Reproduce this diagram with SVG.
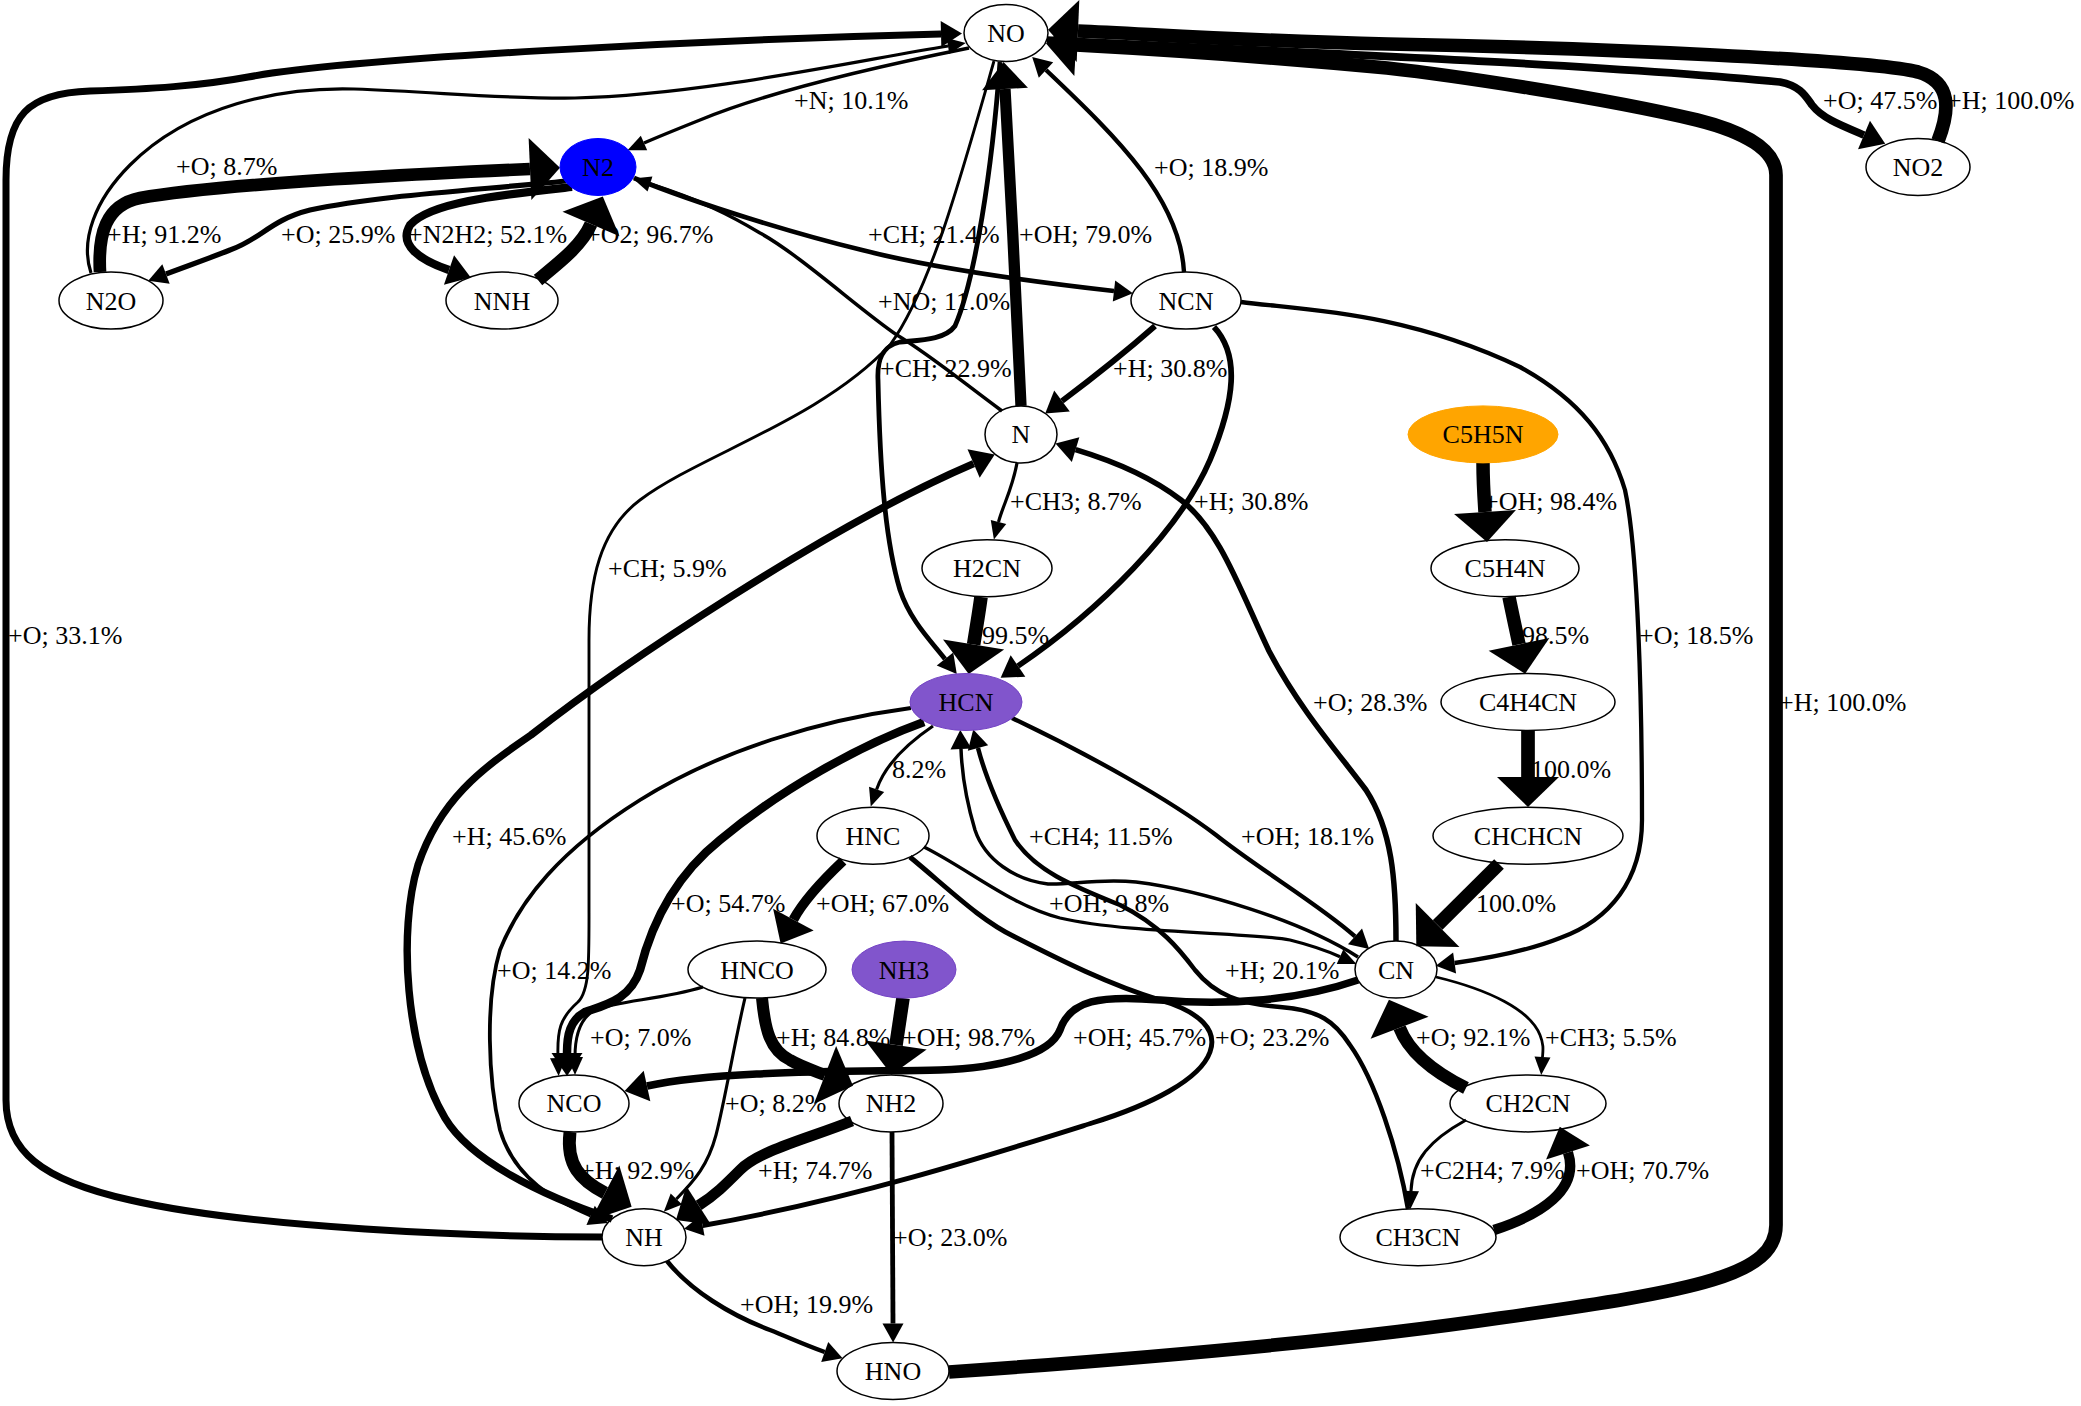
<svg xmlns="http://www.w3.org/2000/svg" width="2081" height="1406" viewBox="0 0 2081 1406">
<style>
.e{fill:none;stroke:#000;stroke-linecap:butt}
.n{fill:none;stroke:#000;stroke-width:1.5}
text{font-family:"Liberation Serif","Times New Roman",serif;font-size:26px;fill:#000}
.nt{text-anchor:middle}
</style>
<defs>
<marker id="m3" markerUnits="userSpaceOnUse" markerWidth="18" markerHeight="16" refX="0" refY="8" orient="auto" overflow="visible"><path d="M0,0L18,8L0,16z"/></marker>
<marker id="m4" markerUnits="userSpaceOnUse" markerWidth="19" markerHeight="21" refX="0" refY="10.5" orient="auto" overflow="visible"><path d="M0,0L19,10.5L0,21z"/></marker>
<marker id="m6" markerUnits="userSpaceOnUse" markerWidth="21" markerHeight="26" refX="0" refY="13" orient="auto" overflow="visible"><path d="M0,0L21,13L0,26z"/></marker>
<marker id="m8" markerUnits="userSpaceOnUse" markerWidth="23" markerHeight="31" refX="0" refY="15.5" orient="auto" overflow="visible"><path d="M0,0L23,15.5L0,31z"/></marker>
<marker id="m10" markerUnits="userSpaceOnUse" markerWidth="27" markerHeight="46" refX="0" refY="23" orient="auto" overflow="visible"><path d="M0,0L27,23L0,46z"/></marker>
<marker id="m13" markerUnits="userSpaceOnUse" markerWidth="30" markerHeight="62" refX="0" refY="31" orient="auto" overflow="visible"><path d="M0,0L30,31L0,62z"/></marker>
</defs>
<rect width="2081" height="1406" fill="#fff"/>
<g id="connectors">
<g id="e-NH-NO"><path class="e" stroke-width="7" marker-end="url(#m6)" d="M602,1237 C480,1237 250,1228 130,1200 C40,1180 6,1150 6,1100 L6,180 C6,115 28,93 90,91 C150,89 200,86 248,77 C350,58 700,40 941,34"/><text x="8" y="644.1">+O; 33.1%</text></g>
<g id="e-N2O-NO"><path class="e" stroke-width="3.2" marker-end="url(#m3)" d="M91,273 C80,240 95,200 130,165 C190,105 280,87 354,89 C440,92 500,99 575,98 C700,95 850,62 948,46"/><text x="176" y="174.8">+O; 8.7%</text></g>
<g id="e-N-NO"><path class="e" stroke-width="11.3" marker-end="url(#m10)" d="M1021,406 C1018,330 1010,180 1005,89"/><text x="1019" y="242.7">+OH; 79.0%</text></g>
<g id="e-NCN-NO"><path class="e" stroke-width="4.4" marker-end="url(#m4)" d="M1184,272 C1180,200 1120,140 1046,70"/><text x="1154" y="175.8">+O; 18.9%</text></g>
<g id="e-NO2-NO"><path class="e" stroke-width="13.7" marker-end="url(#m13)" d="M1938,141 C1950,110 1952,82 1918,72 C1870,60 1600,48 1388,44 C1250,41 1150,34 1078,31"/><text x="1947" y="108.9">+H; 100.0%</text></g>
<g id="e-HNO-NO"><path class="e" stroke-width="13.7" marker-end="url(#m13)" d="M949,1372 C1150,1358 1350,1340 1500,1318 C1700,1290 1776,1275 1776,1225 L1776,175 C1776,150 1745,132 1697,120 C1600,97 1450,75 1387,68 C1250,55 1150,49 1076,45"/><text x="1779" y="711">+H; 100.0%</text></g>
<g id="e-NO-NCO"><path class="e" stroke-width="2.9" marker-end="url(#m3)" d="M994,61 C960,180 930,290 890,345 C820,420 700,455 640,500 C600,530 589,580 589,640 L589,900 C589,960 590,990 578,1002 C560,1018 557,1030 558,1058"/><text x="608" y="577.2">+CH; 5.9%</text></g>
<g id="e-NO-HCN"><path class="e" stroke-width="4.8" marker-end="url(#m4)" d="M1000,62 C992,170 975,280 955,326 C945,340 920,340 900,342 C882,346 877,360 878,380 C880,470 885,540 900,590 C910,620 930,640 945,659"/><text x="880" y="376.5">+CH; 22.9%</text></g>
<g id="e-N2-NCN"><path class="e" stroke-width="4.7" marker-end="url(#m4)" d="M634,178 C700,205 800,235 862,250 C920,265 1000,278 1114,291"/><text x="868" y="242.7">+CH; 21.4%</text></g>
<g id="e-N-N2"><path class="e" stroke-width="3.5" marker-end="url(#m3)" d="M1002,411 C960,380 930,355 897,335 C860,310 800,255 760,233 C730,215 700,200 650,184"/><text x="878" y="309.6">+NO; 11.0%</text></g>
<g id="e-NO-N2"><path class="e" stroke-width="3.4" marker-end="url(#m3)" d="M969,48 C860,70 760,95 700,120 C675,130 660,136 644,143"/><text x="794" y="108.9">+N; 10.1%</text></g>
<g id="e-N2O-N2"><path class="e" stroke-width="12.7" marker-end="url(#m13)" d="M100,272 C98,235 105,205 140,198 C200,187 350,177 530,169"/><text x="107" y="242.7">+H; 91.2%</text></g>
<g id="e-N2-N2O"><path class="e" stroke-width="5.2" marker-end="url(#m4)" d="M566,181 C480,190 380,195 310,210 C270,220 260,240 230,250 C210,258 190,265 166,274"/><text x="281" y="242.7">+O; 25.9%</text></g>
<g id="e-N2-NNH"><path class="e" stroke-width="8.2" marker-end="url(#m8)" d="M572,187 C500,195 430,202 410,225 C398,245 420,260 449,270"/><text x="408" y="242.7">+N2H2; 52.1%</text></g>
<g id="e-NNH-N2"><path class="e" stroke-width="13.3" marker-end="url(#m13)" d="M538,280 C560,262 582,245 591,224"/><text x="586" y="242.7">+O2; 96.7%</text></g>
<g id="e-NO-NO2"><path class="e" stroke-width="7.7" marker-end="url(#m8)" d="M1047,40 C1250,50 1600,64 1780,82 C1800,86 1805,95 1812,105 C1822,118 1840,125 1864,135"/><text x="1823" y="108.9">+O; 47.5%</text></g>
<g id="e-NCN-N"><path class="e" stroke-width="5.7" marker-end="url(#m6)" d="M1155,326 C1130,348 1090,380 1062,401"/><text x="1113" y="376.5">+H; 30.8%</text></g>
<g id="e-NCN-HCN"><path class="e" stroke-width="5.7" marker-end="url(#m6)" d="M1214,327 C1240,355 1235,400 1210,460 C1180,530 1100,610 1018,666"/><text x="1194" y="510.3">+H; 30.8%</text></g>
<g id="e-N-H2CN"><path class="e" stroke-width="3.2" marker-end="url(#m3)" d="M1017,463 C1012,490 1003,505 998.5,522"/><text x="1010" y="510.3">+CH3; 8.7%</text></g>
<g id="e-H2CN-HCN"><path class="e" stroke-width="13.6" marker-end="url(#m13)" d="M981,597 C979,612 976,630 973.6,644.5"/><text x="982" y="644.1">99.5%</text></g>
<g id="e-NH-N"><path class="e" stroke-width="7.4" marker-end="url(#m8)" d="M612,1219 C540,1195 470,1160 445,1118 C405,1050 398,930 418,865 C440,800 480,770 531,735 C620,665 830,525 973.6,463.6"/><text x="452" y="844.8">+H; 45.6%</text></g>
<g id="e-CN-N"><path class="e" stroke-width="5.5" marker-end="url(#m6)" d="M1396,941 C1396,880 1392,830 1366,790 C1340,755 1300,710 1269,651 C1240,590 1220,530 1181,500 C1150,476 1110,460 1075.6,449.6"/><text x="1313" y="711">+O; 28.3%</text></g>
<g id="e-NCN-CN"><path class="e" stroke-width="4.3" marker-end="url(#m4)" d="M1241,302 C1300,310 1400,310 1520,367 C1580,400 1610,440 1625,490 C1638,550 1642,700 1642,820 C1642,880 1610,920 1560,938 C1530,950 1490,958 1454.6,963"/><text x="1639" y="644.1">+O; 18.5%</text></g>
<g id="e-C5H5N-C5H4N"><path class="e" stroke-width="13.5" marker-end="url(#m13)" d="M1483,463 C1483,480 1484,497 1485,512"/><text x="1484" y="510.3">+OH; 98.4%</text></g>
<g id="e-C5H4N-C4H4CN"><path class="e" stroke-width="13.5" marker-end="url(#m13)" d="M1509,597 C1512,612 1516,630 1519,644.4"/><text x="1522" y="644.1">98.5%</text></g>
<g id="e-C4H4CN-CHCHCN"><path class="e" stroke-width="13.7" marker-end="url(#m13)" d="M1528,730.5 L1528,777"/><text x="1531" y="777.9">100.0%</text></g>
<g id="e-CHCHCN-CN"><path class="e" stroke-width="13.7" marker-end="url(#m13)" d="M1499,864 L1437.6,925"/><text x="1476" y="911.7">100.0%</text></g>
<g id="e-HCN-HNC"><path class="e" stroke-width="3.1" marker-end="url(#m3)" d="M933,726 C905,745 885,765 876.6,789.4"/><text x="892" y="777.9">8.2%</text></g>
<g id="e-HCN-NCO"><path class="e" stroke-width="8.5" marker-end="url(#m8)" d="M924,722 C860,745 780,790 720,840 C670,880 650,930 640,970 C630,1000 605,1005 585,1012 C570,1020 567,1035 567,1053"/><text x="671" y="911.7">+O; 54.7%</text></g>
<g id="e-HCN-NH"><path class="e" stroke-width="3.8" marker-end="url(#m4)" d="M911,708 C820,720 720,750 640,800 C560,850 520,900 500,950 C485,1000 488,1080 500,1130 C515,1180 555,1200 590.6,1215.4"/><text x="497" y="978.6">+O; 14.2%</text></g>
<g id="e-HCN-CN"><path class="e" stroke-width="4.3" marker-end="url(#m4)" d="M1012,718 C1090,755 1170,800 1216,835 C1260,870 1320,905 1355,936.4"/><text x="1241" y="844.8">+OH; 18.1%</text></g>
<g id="e-CN-HCN"><path class="e" stroke-width="3.5" marker-end="url(#m4)" d="M1358,957 C1300,920 1200,890 1136,882 C1100,878 1070,885 1048,884 C1015,880 985,860 975,830 C966,800 962,775 961,749"/><text x="1029" y="844.8">+CH4; 11.5%</text></g>
<g id="e-CH3CN-HCN"><path class="e" stroke-width="4.5" marker-end="url(#m4)" d="M1408,1209 C1398,1150 1375,1080 1350,1045 C1335,1022 1320,1010 1280,1007 C1240,1004 1215,995 1195,970 C1180,950 1160,925 1120,905 C1070,885 1035,870 1015,840 C1000,810 985,775 978,748"/><text x="1225" y="978.6">+H; 20.1%</text></g>
<g id="e-HNC-CN"><path class="e" stroke-width="3.3" marker-end="url(#m3)" d="M924,847 C970,870 1010,905 1060,918 C1130,934 1250,932 1290,940 C1310,945 1325,950 1340,956.7"/><text x="1049" y="911.7">+OH; 9.8%</text></g>
<g id="e-HNC-HNCO"><path class="e" stroke-width="9.9" marker-end="url(#m10)" d="M843,861 C825,878 805,898 793.4,919.6"/><text x="816" y="911.7">+OH; 67.0%</text></g>
<g id="e-HNC-NH"><path class="e" stroke-width="4.9" marker-end="url(#m4)" d="M910,857 C950,890 980,920 1015,937 C1060,960 1110,985 1160,1000 C1200,1012 1218,1030 1210,1052 C1200,1080 1150,1105 1092,1123 C1000,1152 850,1200 702.7,1225.5"/><text x="1215" y="1045.5">+O; 23.2%</text></g>
<g id="e-CN-NCO"><path class="e" stroke-width="7.5" marker-end="url(#m8)" d="M1358,980 C1300,1000 1230,1006 1160,1000 C1100,995 1070,1000 1060,1030 C1050,1055 1000,1068 940,1070 C850,1072 720,1070 647,1086"/><text x="1073" y="1045.5">+OH; 45.7%</text></g>
<g id="e-CH2CN-CN"><path class="e" stroke-width="12.8" marker-end="url(#m13)" d="M1466,1088 C1440,1075 1410,1055 1399.6,1027.7"/><text x="1416" y="1045.5">+O; 92.1%</text></g>
<g id="e-CN-CH2CN"><path class="e" stroke-width="2.8" marker-end="url(#m3)" d="M1436,977 C1490,990 1530,1010 1540,1035 C1544,1045 1543,1050 1542.5,1057"/><text x="1545" y="1045.5">+CH3; 5.5%</text></g>
<g id="e-CH2CN-CH3CN"><path class="e" stroke-width="3.1" marker-end="url(#m3)" d="M1466,1120 C1430,1140 1412,1160 1411,1191"/><text x="1420" y="1179.3">+C2H4; 7.9%</text></g>
<g id="e-CH3CN-CH2CN"><path class="e" stroke-width="10.3" marker-end="url(#m10)" d="M1494,1230 C1540,1215 1580,1190 1568,1152.5"/><text x="1576" y="1179.3">+OH; 70.7%</text></g>
<g id="e-NCO-NH"><path class="e" stroke-width="12.9" marker-end="url(#m13)" d="M570,1132 C566,1165 580,1180 605,1193"/><text x="580" y="1179.3">+H; 92.9%</text></g>
<g id="e-HNCO-NCO"><path class="e" stroke-width="3" marker-end="url(#m3)" d="M703,987 C660,1000 620,1000 595,1010 C580,1018 575,1035 575,1057"/><text x="590" y="1045.5">+O; 7.0%</text></g>
<g id="e-HNCO-NH"><path class="e" stroke-width="3.1" marker-end="url(#m3)" d="M745,998 C735,1040 725,1100 716,1135 C708,1165 695,1180 676.4,1199"/><text x="725" y="1112.4">+O; 8.2%</text></g>
<g id="e-NH2-NH"><path class="e" stroke-width="10.8" marker-end="url(#m10)" d="M852,1121 C810,1138 760,1150 740,1170 C725,1185 715,1195 698.7,1205.4"/><text x="758" y="1179.3">+H; 74.7%</text></g>
<g id="e-NH3-NH2"><path class="e" stroke-width="13.6" marker-end="url(#m13)" d="M903,998 L896,1045"/><text x="902" y="1045.5">+OH; 98.7%</text></g>
<g id="e-HNCO-NH2"><path class="e" stroke-width="12" marker-end="url(#m13)" d="M762,998 C765,1030 770,1050 790,1060 C800,1066 812,1070 825,1075"/><text x="776" y="1045.5">+H; 84.8%</text></g>
<g id="e-NH2-HNO"><path class="e" stroke-width="4.8" marker-end="url(#m4)" d="M892,1132 L893,1323.5"/><text x="893" y="1246.2">+O; 23.0%</text></g>
<g id="e-NH-HNO"><path class="e" stroke-width="4.5" marker-end="url(#m4)" d="M667,1261 C690,1290 730,1315 770,1330 C790,1338 805,1345 824.7,1352"/><text x="740" y="1313.1">+OH; 19.9%</text></g>
</g>
<g id="nodes">
<g id="node-NO"><ellipse class="n" cx="1006" cy="33" rx="42" ry="28.5"/><text class="nt" x="1006" y="42">NO</text></g>
<g id="node-N2"><ellipse cx="598" cy="167" rx="38" ry="28.5" fill="#0000ff" stroke="#0000ff"/><text class="nt" x="598" y="176">N2</text></g>
<g id="node-NO2"><ellipse class="n" cx="1918" cy="167" rx="52" ry="28.5"/><text class="nt" x="1918" y="176">NO2</text></g>
<g id="node-N2O"><ellipse class="n" cx="111" cy="300.6" rx="52" ry="28.5"/><text class="nt" x="111" y="309.6">N2O</text></g>
<g id="node-NNH"><ellipse class="n" cx="502" cy="300.6" rx="56" ry="28.5"/><text class="nt" x="502" y="309.6">NNH</text></g>
<g id="node-NCN"><ellipse class="n" cx="1186" cy="300.6" rx="55" ry="28.5"/><text class="nt" x="1186" y="309.6">NCN</text></g>
<g id="node-N"><ellipse class="n" cx="1021" cy="434.4" rx="36" ry="28.5"/><text class="nt" x="1021" y="443.4">N</text></g>
<g id="node-C5H5N"><ellipse cx="1483" cy="434.4" rx="75" ry="28.5" fill="#ffa500" stroke="#ffa500"/><text class="nt" x="1483" y="443.4">C5H5N</text></g>
<g id="node-H2CN"><ellipse class="n" cx="987" cy="568.2" rx="65" ry="28.5"/><text class="nt" x="987" y="577.2">H2CN</text></g>
<g id="node-C5H4N"><ellipse class="n" cx="1505" cy="568.2" rx="74" ry="28.5"/><text class="nt" x="1505" y="577.2">C5H4N</text></g>
<g id="node-HCN"><ellipse cx="966" cy="702" rx="56" ry="28.5" fill="#8155cc" stroke="#7444c4"/><text class="nt" x="966" y="711">HCN</text></g>
<g id="node-C4H4CN"><ellipse class="n" cx="1528" cy="702" rx="87" ry="28.5"/><text class="nt" x="1528" y="711">C4H4CN</text></g>
<g id="node-HNC"><ellipse class="n" cx="873" cy="835.8" rx="56" ry="28.5"/><text class="nt" x="873" y="844.8">HNC</text></g>
<g id="node-CHCHCN"><ellipse class="n" cx="1528" cy="835.8" rx="95" ry="28.5"/><text class="nt" x="1528" y="844.8">CHCHCN</text></g>
<g id="node-HNCO"><ellipse class="n" cx="757" cy="969.6" rx="69" ry="28.5"/><text class="nt" x="757" y="978.6">HNCO</text></g>
<g id="node-NH3"><ellipse cx="904" cy="969.6" rx="52" ry="28.5" fill="#8155cc" stroke="#7444c4"/><text class="nt" x="904" y="978.6">NH3</text></g>
<g id="node-CN"><ellipse class="n" cx="1396" cy="969.6" rx="41" ry="28.5"/><text class="nt" x="1396" y="978.6">CN</text></g>
<g id="node-NCO"><ellipse class="n" cx="574" cy="1103.4" rx="55" ry="28.5"/><text class="nt" x="574" y="1112.4">NCO</text></g>
<g id="node-NH2"><ellipse class="n" cx="891" cy="1103.4" rx="52" ry="28.5"/><text class="nt" x="891" y="1112.4">NH2</text></g>
<g id="node-CH2CN"><ellipse class="n" cx="1528" cy="1103.4" rx="78" ry="28.5"/><text class="nt" x="1528" y="1112.4">CH2CN</text></g>
<g id="node-NH"><ellipse class="n" cx="644" cy="1237.2" rx="42" ry="28.5"/><text class="nt" x="644" y="1246.2">NH</text></g>
<g id="node-CH3CN"><ellipse class="n" cx="1418" cy="1237.2" rx="78" ry="28.5"/><text class="nt" x="1418" y="1246.2">CH3CN</text></g>
<g id="node-HNO"><ellipse class="n" cx="893" cy="1371" rx="56" ry="28.5"/><text class="nt" x="893" y="1380">HNO</text></g>
</g>
</svg>
